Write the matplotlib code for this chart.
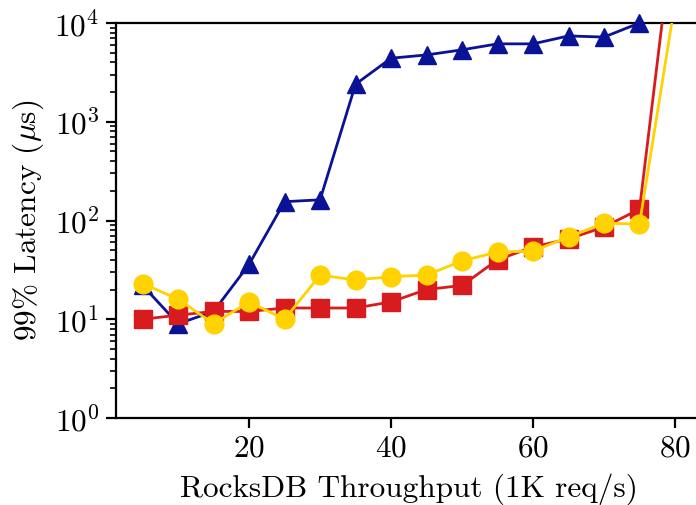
import numpy as np
import matplotlib
matplotlib.use("Agg")
import matplotlib.pyplot as plt

plt.rcParams['font.family'] = 'serif'
plt.rcParams['font.serif'] = ['cmr10']
plt.rcParams['mathtext.fontset'] = 'cm'
plt.rcParams['axes.formatter.use_mathtext'] = True
plt.rcParams['font.size'] = 22.5

# Throughput (1K req/s) and 99% latency (us) per series
x = [5, 10, 15, 20, 25, 30, 35, 40, 45, 50, 55, 60, 65, 70, 75, 80]
blue_x = x[:-1]
blue_y = [22, 9, 12, 36, 155, 162, 2400, 4400, 4750, 5350, 6150, 6150, 7400, 7200, 10000]
red_y = [10, 11, 12, 12, 13, 13, 13, 15, 20, 22, 40, 54, 65, 86, 130, 120000]
yellow_y = [23, 16, 9, 15, 10, 28, 25, 27, 28, 39, 48, 49, 68, 94, 92, 16000]

fig = plt.figure(figsize=(6.96, 5.05), dpi=100)
ax = fig.add_axes([116 / 696, 87 / 505, 585.6 / 696, 395 / 505])

ax.plot(blue_x, blue_y, color='#0a1296', marker='^', markersize=13.5, lw=2, clip_on=False, zorder=3)
ax.plot(x, red_y, color='#d81b1e', marker='s', markersize=12.5, lw=2, zorder=4)
ax.plot(x, yellow_y, color='#ffd200', marker='o', markersize=13.5, lw=2, zorder=5)

ax.set_yscale('log')
ax.set_ylim(1, 1e4)
ax.set_xlim(1.25, 83.75)
ax.set_xticks([20, 40, 60, 80])

for s in ax.spines.values():
    s.set_linewidth(1.6)
ax.tick_params(which='major', direction='out', length=7, width=1.6, pad=5)
ax.tick_params(which='minor', direction='out', length=4, width=1.2)

ax.set_xlabel('RocksDB Throughput (1K req/s)', labelpad=8)
ax.set_ylabel(r'99% Latency ($\mu$s)', labelpad=6)

fig.savefig('out.png', dpi=100)
